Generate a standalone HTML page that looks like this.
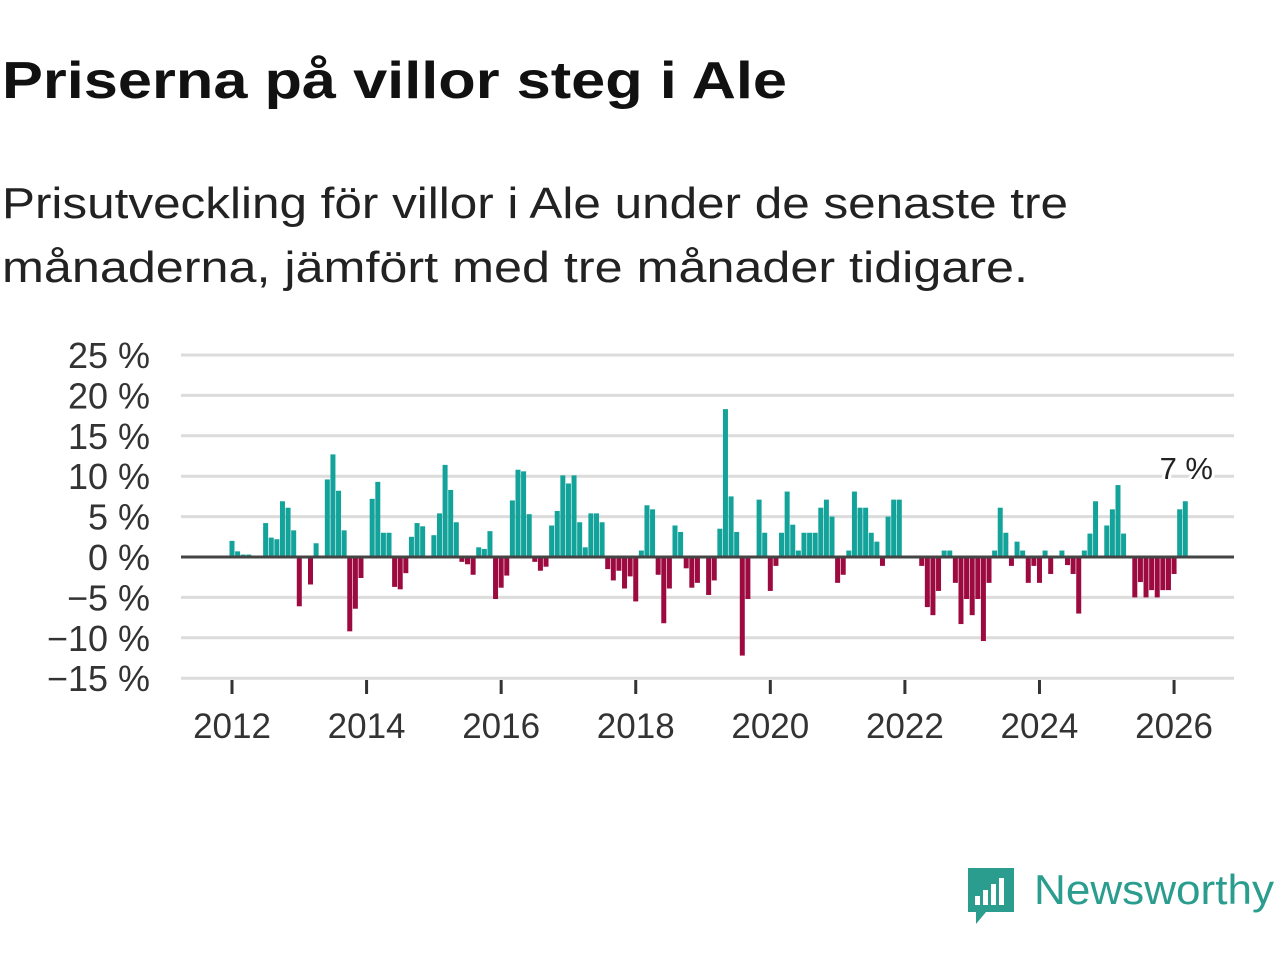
<!DOCTYPE html>
<html><head><meta charset="utf-8"><style>html,body{margin:0;padding:0;background:#fff}svg{display:block}</style></head>
<body>
<svg id="chart" width="1280" height="960" viewBox="0 0 1280 960" xmlns="http://www.w3.org/2000/svg" font-family="'Liberation Sans', sans-serif">
<text x="2" y="98" font-size="52" font-weight="bold" fill="#111" textLength="785" lengthAdjust="spacingAndGlyphs">Priserna på villor steg i Ale</text>
<text x="2" y="218" font-size="44" fill="#222" textLength="1066" lengthAdjust="spacingAndGlyphs">Prisutveckling för villor i Ale under de senaste tre</text>
<text x="2" y="282" font-size="44" fill="#222" textLength="1026" lengthAdjust="spacingAndGlyphs">månaderna, jämfört med tre månader tidigare.</text>
<g id="grid"></g><g id="bars"></g><g id="axes"></g>
<g>
<path d="M968 868 h46 v44 h-28 l-10 12 v-12 h-8 z" fill="#2a9d8f"/>
<rect x="975" y="896" width="5" height="9" fill="#fff"/><rect x="983" y="890" width="5" height="15" fill="#fff"/><rect x="991" y="884" width="5" height="21" fill="#fff"/><rect x="999" y="878" width="5" height="27" fill="#fff"/>
<text x="1034" y="904" font-size="42" fill="#2a9d8f" textLength="240" lengthAdjust="spacingAndGlyphs">Newsworthy</text>
</g>
</svg>
<script>
const months = [];
const values = [2.0,0.7,0.3,0.3,0,0,4.2,2.4,2.2,6.9,6.1,3.3,-6.1,0,-3.4,1.7,0,9.6,12.7,8.2,3.3,-9.2,-6.4,-2.6,0,7.2,9.3,3,3,-3.7,-4,-2,2.5,4.2,3.8,0,2.7,5.4,11.4,8.3,4.3,-0.6,-0.9,-2.2,1.2,1,3.2,-5.2,-3.8,-2.3,7.0,10.8,10.6,5.3,-0.6,-1.7,-1.2,3.9,5.7,10.1,9.1,10.1,4.3,1.2,5.4,5.4,4.3,-1.5,-2.9,-1.7,-3.9,-2.4,-5.5,0.8,6.4,5.9,-2.2,-8.2,-3.9,3.9,3.1,-1.4,-3.8,-3.2,0,-4.7,-2.9,3.5,18.3,7.5,3.1,-12.2,-5.2,0,7.1,3.0,-4.2,-1.1,3,8.1,4.0,0.8,3,3,3,6.1,7.1,5.0,-3.2,-2.2,0.8,8.1,6.1,6.1,3,1.9,-1.1,5,7.1,7.1,0,0,0,-1.1,-6.2,-7.2,-4.2,0.8,0.8,-3.2,-8.3,-5.2,-7.2,-5.2,-10.4,-3.2,0.8,6.1,3,-1.1,1.9,0.8,-3.2,-1.1,-3.2,0.8,-2.1,0,0.8,-1,-2.1,-7.0,0.8,2.9,6.9,0,3.9,5.9,8.9,2.9,0,-5.0,-3.1,-5.0,-4.1,-5.0,-4.1,-4.1,-2.1,5.9,6.9];
const yTicks = [25,20,15,10,5,0,-5,-10,-15];
const yTickLabels = ["25 %","20 %","15 %","10 %","5 %","0 %","\u22125 %","\u221210 %","\u221215 %"];
const xYears = [2012,2014,2016,2018,2020,2022,2024,2026];
const lastLabel = "7 %";
for (let i=0;i<values.length;i++) months.push(2012+i/12);

const NS="http://www.w3.org/2000/svg";
const y = v => 557 - v*8.08;
const x = t => 232 + (t-2012)*67.29;
function mk(tag, attrs, parent){const e=document.createElementNS(NS,tag);for(const k in attrs)e.setAttribute(k,attrs[k]);parent.appendChild(e);return e;}
const grid=document.getElementById('grid'), bars=document.getElementById('bars'), axes=document.getElementById('axes');
yTicks.forEach((t,i)=>{
  if(t!==0){const l=mk('line',{x1:181,x2:1234,y1:y(t),y2:y(t),stroke:'#dcdcdc','stroke-width':3},grid);
  
  }
  const tx=mk('text',{x:150,y:y(t)+13,'font-size':36,'text-anchor':'end',fill:'#333'},axes);
  tx.textContent=yTickLabels[i];
  
  
});
values.forEach((v,i)=>{
  if(v===0) return;
  const cx=x(months[i]);
  const r=mk('rect',{x:cx-2.5,width:5,y:Math.min(y(v),y(0)),height:Math.abs(y(v)-y(0)),fill:v>0?'#13a39a':'#9c0a3f'},bars);
  
  
});
const zl=mk('line',{x1:181,x2:1234,y1:y(0),y2:y(0),stroke:'#444','stroke-width':3},axes);


xYears.forEach(yr=>{
  const tk=mk('line',{x1:x(yr),x2:x(yr),y1:680,y2:694,stroke:'#333','stroke-width':3},axes);
  
  
  const t=mk('text',{x:x(yr),y:738,'font-size':35,'text-anchor':'middle',fill:'#333'},axes);
  t.textContent=yr;
  
  
});
const li=values.length-1;
const lb=mk('text',{x:x(months[li])+1,y:y(values[li])-22,'font-size':31,'text-anchor':'middle',fill:'#222',stroke:'#fff','stroke-width':6,'paint-order':'stroke'},axes);
lb.textContent=lastLabel;


</script>
</body></html>
